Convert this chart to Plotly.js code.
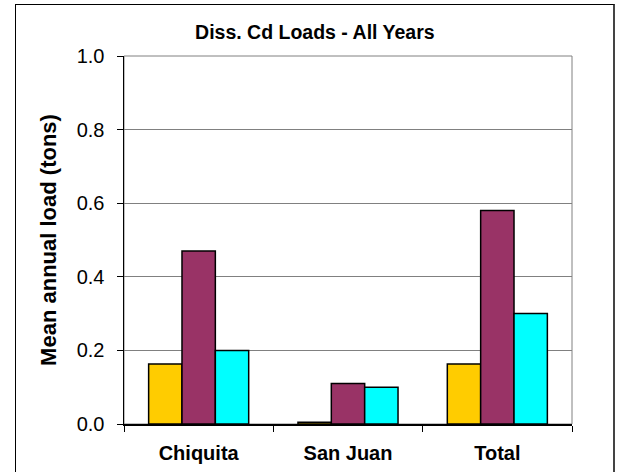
<!DOCTYPE html>
<html><head><meta charset="utf-8">
<script src="https://cdn.plot.ly/plotly-3.0.1.min.js"></script>
<style>
body{margin:0;padding:0;background:#fff;}
#wrap{position:relative;width:620px;height:472px;}
#chart{position:absolute;left:0;top:0;width:620px;height:472px;}
#frame{position:absolute;left:15px;top:4px;width:597px;height:480px;border:1px solid #000;border-right:2px solid #444;pointer-events:none;}
</style></head>
<body><div id="wrap"><div id="chart"></div><div id="frame"></div></div>
<script>
const categories = ["Chiquita", "San Juan", "Total"];
const series1 = [0.163, 0.005, 0.163];
const series2 = [0.47, 0.11, 0.58];
const series3 = [0.20, 0.10, 0.30];
const colors = ["#FFCC00", "#993366", "#00FFFF"];
const yTicks = [0, 0.2, 0.4, 0.6, 0.8, 1.0];

const font = "Liberation Sans, Arial, sans-serif";
const traces = [series1, series2, series3].map((v, i) => ({
  type: "bar", x: categories, y: v,
  marker: {color: colors[i], line: {color: "#000", width: 1.5}},
  hoverinfo: "none"
}));

const layout = {
  width: 620, height: 472,
  margin: {l: 124, r: 48, t: 56, b: 48},
  paper_bgcolor: "#fff", plot_bgcolor: "#fff",
  showlegend: false,
  barmode: "group", bargap: 0.33, bargroupgap: 0,
  font: {family: font, color: "#000"},
  title: {text: "<b>Diss. Cd Loads - All Years</b>", font: {family: font, size: 19.5, color: "#000"},
          xref: "paper", x: 0.426, xanchor: "center", yref: "container", y: 1 - 32/472, yanchor: "middle"},
  xaxis: {
    type: "category", tickson: "boundaries", ticks: "outside", ticklen: 6, tickcolor: "#000",
    showline: true, linecolor: "#000", linewidth: 1.5,
    tickfont: {family: font, size: 20, color: "#000", weight: "bold"},
    ticklabelstandoff: 10, showgrid: false
  },
  yaxis: {
    range: [0, 1.0], tickvals: yTicks, tickformat: ".1f",
    ticks: "outside", ticklen: 6, tickcolor: "#000",
    showline: true, linecolor: "#000", linewidth: 1.5,
    showgrid: true, gridcolor: "#808080", gridwidth: 1,
    zeroline: false,
    tickfont: {family: font, size: 20, color: "#000"},
    ticklabelstandoff: 8,
    title: {text: "<b>Mean annual load (tons)</b>", font: {family: font, size: 22, color: "#000"}, standoff: 14}
  },
  shapes: [{type: "rect", xref: "paper", yref: "paper", x0: 0, x1: 1, y0: 0, y1: 1,
            line: {color: "#808080", width: 1}, layer: "below"}]
};
Plotly.newPlot("chart", traces, layout, {staticPlot: true});
</script></body></html>
